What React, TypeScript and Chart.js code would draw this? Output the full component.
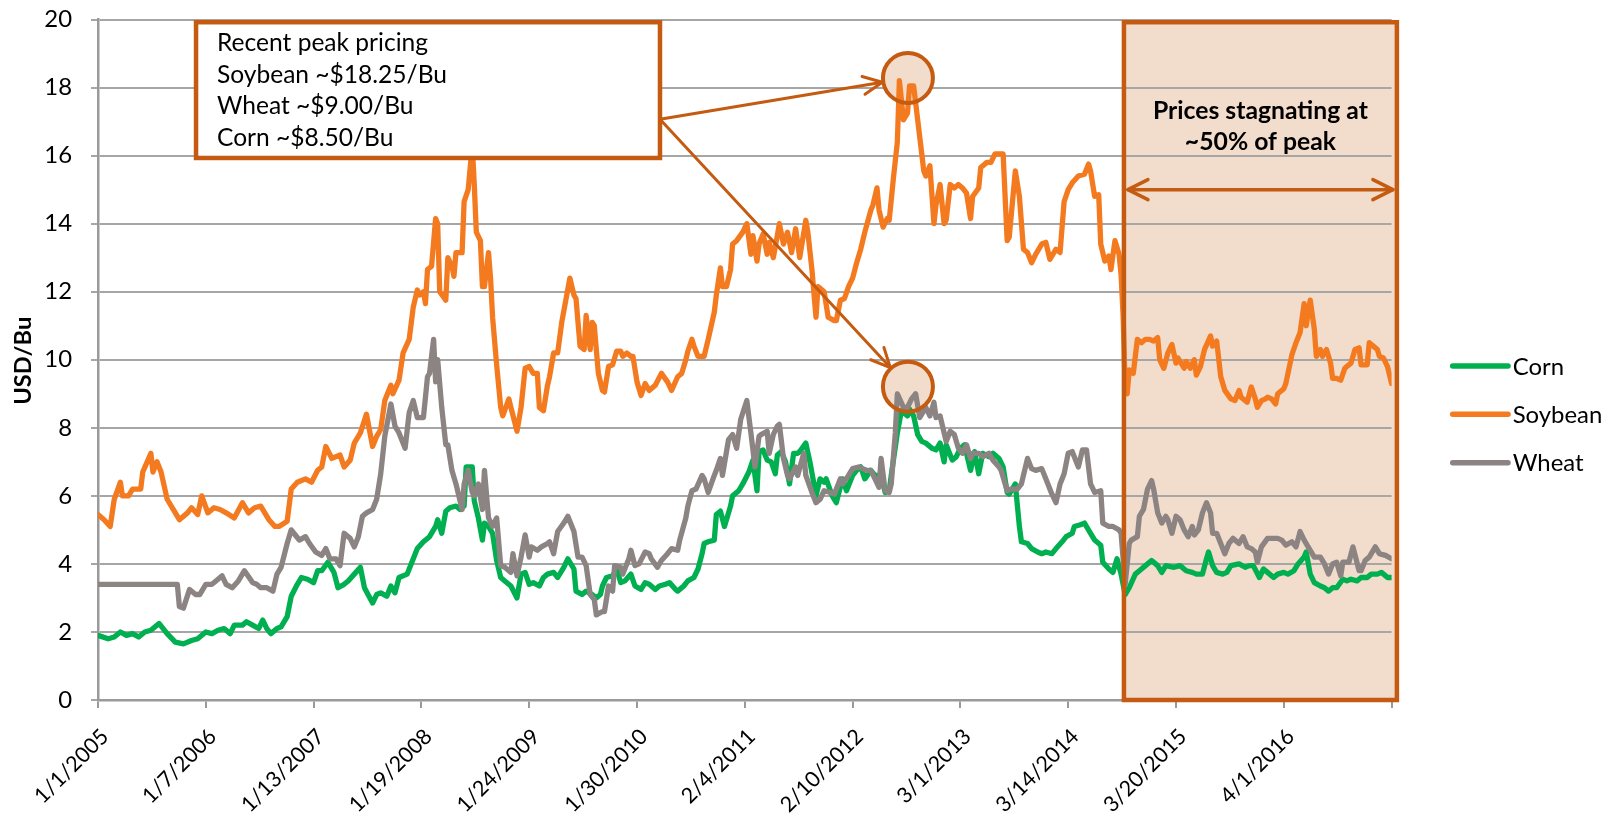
import React, { useEffect, useRef } from "react";
import { Chart, registerables } from "chart.js";

Chart.register(...registerables);

// ---------- data ----------
const xTickLabels = [
  "1/1/2005", "1/7/2006", "1/13/2007", "1/19/2008", "1/24/2009", "1/30/2010",
  "2/4/2011", "2/10/2012", "3/1/2013", "3/14/2014", "3/20/2015", "4/1/2016", "",
];
const POINTS_PER_LABEL = 53; // weekly observations between labelled ticks
const X_MAX = POINTS_PER_LABEL * (xTickLabels.length - 1);

const Y_MIN = 0;
const Y_MAX = 20;
const Y_STEP = 2;

const seriesNames = ["Corn", "Soybean", "Wheat"];
const seriesColors = ["#00B050", "#F47A20", "#8C8482"];

// [observation index, USD/Bu]
const cornPrices: number[][] = [
  [0,1.9],[5,1.8],[8,1.85],[11,2.0],[14,1.9],[17,1.95],[20,1.85],[23,2.0],[26,2.05],[30,2.25],[34,1.95],[38,1.7],[42,1.65],[46,1.75],[49,1.8],[53,2.0],[56,1.95],[59,2.05],[62,2.1],[65,1.95],[67,2.2],[71,2.2],[73,2.3],[76,2.2],[79,2.1],[81,2.35],[83,2.1],[85,1.95],[88,2.1],[90,2.15],[93,2.45],[95,3.05],[98,3.4],[100,3.6],[103,3.55],[106,3.45],[108,3.8],[110,3.8],[113,4.05],[116,3.75],[118,3.3],[121,3.4],[123,3.5],[126,3.7],[129,3.9],[131,3.3],[135,2.85],[137,3.1],[139,3.15],[142,3.05],[144,3.35],[146,3.15],[148,3.6],[152,3.7],[155,4.15],[157,4.45],[160,4.65],[163,4.8],[166,5.1],[167,5.3],[169,4.9],[171,5.55],[173,5.65],[176,5.7],[178,5.6],[180,5.7],[181,6.85],[184,6.85],[185,5.85],[187,5.35],[189,4.7],[190,5.2],[192,5.1],[194,4.9],[196,4.1],[198,3.6],[200,3.5],[203,3.35],[206,3.0],[208,3.7],[210,3.75],[212,3.4],[214,3.45],[217,3.35],[219,3.6],[221,3.7],[224,3.75],[226,3.6],[229,3.9],[231,4.15],[234,3.85],[235,3.2],[238,3.1],[240,3.2],[243,3.1],[245,3.0],[247,3.1],[248,3.35],[250,3.6],[253,3.65],[255,3.85],[257,3.45],[259,3.5],[262,3.7],[264,3.35],[267,3.25],[269,3.45],[271,3.4],[274,3.25],[276,3.35],[279,3.4],[281,3.45],[284,3.25],[285,3.2],[288,3.35],[290,3.5],[293,3.6],[295,3.85],[297,4.3],[298,4.6],[300,4.65],[303,4.7],[304,5.45],[306,5.55],[308,5.1],[311,5.7],[312,6.0],[315,6.15],[317,6.35],[320,6.7],[322,7.05],[324,6.15],[325,7.3],[327,7.35],[329,7.05],[331,7.0],[333,6.65],[334,7.2],[336,7.3],[338,7.0],[340,6.35],[342,7.25],[344,7.25],[345,7.3],[348,7.55],[350,7.0],[352,6.35],[353,6.0],[355,6.5],[357,6.4],[358,6.5],[361,6.0],[363,5.8],[366,6.5],[368,6.15],[371,6.6],[373,6.75],[375,6.85],[377,6.5],[380,6.75],[382,6.6],[385,6.6],[387,6.1],[389,6.15],[390,6.6],[393,7.85],[395,8.5],[398,8.35],[399,8.55],[401,8.35],[403,7.8],[405,7.6],[407,7.55],[410,7.4],[412,7.35],[414,7.55],[416,7.0],[417,7.5],[420,7.05],[422,7.15],[424,7.4],[426,7.5],[429,6.75],[431,7.3],[433,6.65],[435,7.25],[438,7.15],[440,7.25],[443,7.1],[445,6.85],[447,6.1],[448,6.05],[451,6.35],[453,5.1],[454,4.65],[457,4.6],[459,4.45],[462,4.35],[464,4.3],[466,4.35],[469,4.3],[471,4.45],[474,4.65],[476,4.8],[479,4.9],[480,5.1],[483,5.15],[485,5.2],[488,4.9],[490,4.7],[493,4.55],[494,4.05],[497,3.85],[499,3.75],[501,4.15],[503,3.7],[505,3.1],[507,3.3],[510,3.7],[512,3.8],[515,3.95],[518,4.1],[521,3.95],[523,3.75],[525,3.95],[529,3.9],[532,3.95],[535,3.8],[538,3.75],[540,3.7],[543,3.7],[545,4.15],[546,4.35],[548,3.95],[550,3.75],[553,3.7],[555,3.75],[557,3.95],[561,4.0],[564,3.9],[566,3.95],[568,3.95],[571,3.6],[573,3.85],[575,3.75],[578,3.6],[580,3.7],[583,3.75],[585,3.7],[588,3.8],[590,4.0],[593,4.2],[594,4.35],[596,3.7],[598,3.45],[601,3.35],[603,3.3],[605,3.2],[607,3.3],[609,3.3],[612,3.55],[614,3.5],[616,3.55],[619,3.5],[621,3.6],[624,3.6],[626,3.7],[629,3.7],[631,3.75],[634,3.6],[636,3.6],
];

const soybeanPrices: number[][] = [
  [0,5.45],[3,5.3],[6,5.1],[8,5.9],[11,6.4],[12,6.0],[15,6.0],[17,6.2],[21,6.2],[22,6.7],[26,7.25],[27,6.7],[29,7.0],[31,6.7],[34,5.9],[37,5.6],[40,5.3],[44,5.5],[46,5.65],[49,5.45],[51,6.0],[54,5.5],[57,5.65],[60,5.6],[63,5.5],[67,5.35],[71,5.8],[74,5.5],[77,5.65],[80,5.7],[84,5.3],[87,5.1],[89,5.1],[93,5.25],[95,6.2],[98,6.4],[102,6.5],[105,6.4],[108,6.75],[110,6.85],[112,7.45],[115,7.1],[119,7.2],[121,6.85],[124,7.05],[126,7.55],[129,7.85],[132,8.4],[135,7.45],[137,7.75],[139,7.95],[141,8.8],[144,9.25],[145,9.0],[148,9.4],[150,10.2],[153,10.6],[155,11.55],[157,12.05],[158,11.9],[160,12.0],[161,11.65],[162,12.65],[164,12.75],[166,14.15],[167,14.0],[168,12.0],[171,11.75],[172,13.0],[174,12.75],[175,12.45],[176,13.15],[179,13.15],[180,14.65],[182,15.0],[184,16.3],[185,15.15],[186,13.75],[188,13.5],[189,12.15],[190,12.15],[192,13.15],[193,12.4],[194,11.25],[196,9.85],[198,8.6],[199,8.35],[202,8.85],[203,8.6],[206,7.9],[208,8.6],[210,9.75],[212,9.8],[214,9.6],[216,9.6],[217,8.6],[219,8.5],[221,9.25],[222,9.5],[224,10.2],[226,10.2],[228,11.1],[230,11.75],[232,12.4],[234,11.9],[235,11.8],[237,10.4],[239,10.3],[240,11.3],[242,10.3],[243,11.1],[244,11.0],[246,9.6],[248,9.1],[249,9.05],[251,9.8],[253,9.85],[255,10.25],[257,10.25],[258,10.1],[260,10.2],[262,10.1],[263,10.1],[265,9.35],[267,8.95],[269,9.3],[271,9.1],[274,9.25],[277,9.6],[280,9.35],[282,9.1],[285,9.5],[287,9.6],[289,10.0],[290,10.25],[292,10.6],[293,10.4],[295,10.1],[298,10.1],[300,10.6],[303,11.4],[304,11.9],[306,12.7],[307,12.15],[309,12.15],[311,12.65],[312,13.4],[314,13.5],[317,13.75],[319,14.0],[321,13.1],[322,13.65],[324,12.9],[325,13.4],[327,13.7],[329,13.1],[330,13.45],[332,13.0],[334,13.65],[335,14.0],[337,13.4],[339,13.75],[341,13.15],[343,13.85],[345,13.0],[348,14.1],[349,13.75],[351,12.65],[353,11.25],[354,12.15],[357,12.0],[359,11.25],[362,11.15],[363,11.15],[365,11.75],[367,11.8],[369,12.15],[371,12.4],[373,12.85],[375,13.25],[377,13.75],[380,14.4],[381,14.55],[383,15.05],[384,14.4],[386,13.9],[388,14.15],[389,14.1],[391,15.3],[393,16.4],[394,18.2],[396,17.05],[398,17.25],[399,18.05],[401,18.05],[402,17.55],[404,16.55],[406,15.55],[407,15.4],[409,15.7],[411,14.0],[412,14.55],[414,15.15],[416,14.0],[417,14.1],[419,15.15],[421,15.05],[423,15.15],[425,15.05],[427,14.9],[429,14.15],[430,14.8],[433,15.05],[434,15.65],[437,15.8],[439,15.8],[441,16.05],[443,16.05],[445,16.05],[447,13.5],[448,13.6],[451,15.55],[453,14.8],[455,13.25],[457,13.15],[459,12.85],[461,13.1],[464,13.4],[466,13.45],[468,12.95],[471,13.25],[473,13.15],[475,14.65],[477,15.0],[479,15.2],[482,15.4],[485,15.45],[487,15.75],[488,15.55],[490,14.8],[492,14.85],[493,13.4],[495,12.9],[497,13.05],[498,12.65],[500,13.5],[502,13.1],[503,12.5],[504,11.3],[505,9.2],[506,9.0],[507,9.7],[509,9.6],[511,10.6],[513,10.5],[515,10.6],[517,10.6],[519,10.55],[521,10.65],[522,10.0],[524,9.75],[526,10.2],[528,10.45],[530,9.9],[531,10.05],[534,9.75],[535,9.95],[537,9.75],[539,10.0],[540,9.55],[542,9.8],[544,10.3],[547,10.7],[548,10.4],[550,10.55],[552,9.5],[554,9.1],[557,8.85],[559,8.8],[561,9.1],[562,8.9],[565,8.75],[567,9.2],[569,8.85],[570,8.6],[572,8.8],[574,8.85],[575,8.9],[577,8.85],[579,8.7],[580,9.0],[583,9.15],[584,9.3],[587,10.15],[589,10.5],[591,10.8],[593,11.65],[594,11.0],[596,11.75],[598,10.9],[599,10.1],[601,10.3],[602,10.1],[604,10.3],[606,9.9],[607,9.45],[609,9.45],[611,9.4],[613,9.75],[616,9.9],[618,10.3],[620,10.35],[621,9.85],[624,9.85],[625,10.5],[627,10.4],[629,10.3],[630,10.1],[632,10.05],[634,9.8],[636,9.3],
];

const wheatPrices: number[][] = [
  [0,3.4],[39,3.4],[40,2.75],[42,2.7],[45,3.25],[48,3.1],[50,3.1],[53,3.4],[56,3.4],[58,3.5],[61,3.65],[63,3.4],[66,3.3],[69,3.5],[72,3.8],[76,3.45],[78,3.4],[80,3.3],[83,3.3],[86,3.2],[88,3.7],[90,3.9],[93,4.6],[95,5.0],[97,4.85],[99,4.7],[102,4.8],[104,4.6],[107,4.35],[110,4.25],[112,4.45],[114,4.15],[117,4.15],[119,3.95],[121,4.9],[124,4.75],[126,4.5],[128,4.8],[130,5.4],[132,5.5],[135,5.6],[137,5.9],[139,6.65],[141,7.75],[144,8.7],[146,8.05],[148,7.85],[151,7.4],[153,8.45],[155,8.8],[157,8.3],[160,8.3],[162,9.5],[163,9.6],[165,10.6],[166,9.35],[167,10.0],[169,8.6],[171,7.5],[172,7.5],[174,6.75],[176,6.35],[177,6.1],[179,5.6],[180,6.35],[182,6.75],[184,6.1],[185,6.0],[187,6.35],[189,5.6],[190,6.75],[192,5.35],[194,5.1],[196,5.35],[198,3.95],[200,3.9],[203,3.75],[204,4.3],[206,3.65],[208,4.2],[210,4.85],[212,4.2],[213,4.5],[216,4.4],[218,4.5],[221,4.6],[222,4.65],[224,4.3],[226,4.95],[229,5.2],[231,5.4],[234,4.95],[236,4.2],[238,4.2],[240,3.95],[242,3.1],[244,2.95],[245,2.5],[248,2.6],[249,2.6],[251,3.35],[253,3.2],[254,3.95],[257,3.9],[258,3.7],[261,4.15],[262,4.4],[264,3.95],[266,4.0],[269,4.35],[271,4.3],[272,4.15],[275,3.9],[277,4.1],[280,4.3],[282,4.45],[285,4.4],[286,4.7],[289,5.35],[290,5.7],[292,6.15],[294,6.2],[297,6.6],[298,6.5],[300,6.1],[303,6.6],[304,6.75],[306,7.1],[307,6.6],[310,7.65],[312,7.8],[314,7.4],[316,8.25],[319,8.8],[321,7.85],[323,6.85],[325,7.75],[326,7.8],[329,7.9],[330,7.25],[332,7.8],[334,8.05],[335,8.1],[337,7.1],[339,6.6],[340,6.5],[343,6.85],[344,6.6],[347,7.25],[348,6.6],[351,6.1],[353,5.8],[355,5.9],[357,6.15],[360,6.1],[362,6.05],[365,6.5],[366,6.35],[369,6.6],[371,6.8],[374,6.85],[376,6.8],[378,6.75],[380,6.75],[382,6.5],[384,6.25],[385,7.1],[387,6.15],[389,6.1],[390,6.35],[392,7.85],[393,9.0],[396,8.6],[398,8.6],[400,8.85],[402,9.0],[404,8.3],[407,8.6],[409,8.35],[411,8.75],[412,8.3],[414,8.35],[416,7.85],[417,7.6],[419,7.9],[421,7.8],[423,7.4],[425,7.25],[427,7.5],[429,7.1],[430,7.25],[433,7.25],[435,7.15],[438,7.25],[440,7.05],[443,6.85],[444,6.75],[447,6.15],[449,6.2],[452,6.2],[454,6.35],[457,7.1],[459,6.8],[461,6.75],[464,6.8],[466,6.5],[469,6.05],[471,5.8],[473,6.35],[475,6.65],[477,7.25],[479,7.3],[480,7.15],[482,6.85],[484,7.35],[486,7.35],[488,6.35],[490,6.1],[493,6.15],[494,5.2],[497,5.1],[499,5.1],[502,5.0],[503,4.9],[505,3.4],[507,4.6],[508,4.7],[511,4.8],[512,5.4],[514,5.6],[516,6.2],[518,6.45],[519,6.2],[521,5.5],[523,5.2],[525,5.4],[526,5.3],[528,4.9],[530,5.4],[532,5.3],[534,5.0],[536,4.8],[538,5.1],[539,4.85],[541,5.0],[543,5.5],[545,5.8],[547,5.5],[548,4.9],[550,4.9],[552,4.6],[554,4.3],[556,4.6],[558,4.75],[561,4.6],[563,4.8],[565,4.5],[567,4.45],[569,4.35],[570,4.05],[572,4.5],[575,4.75],[577,4.75],[580,4.75],[582,4.7],[584,4.55],[587,4.65],[589,4.5],[591,4.95],[593,4.7],[596,4.4],[598,4.2],[601,4.2],[603,4.0],[605,3.7],[607,4.0],[609,4.05],[611,3.65],[612,4.05],[615,4.05],[617,4.5],[620,3.8],[621,3.8],[623,4.1],[625,4.2],[628,4.5],[630,4.3],[633,4.25],[636,4.15],
];

const seriesData = [cornPrices, soybeanPrices, wheatPrices];

// annotation texts
const yAxisTitle = "USD/Bu";
const calloutLines = ["Recent peak pricing", "Soybean ~$18.25/Bu", "Wheat ~$9.00/Bu", "Corn ~$8.50/Bu"];
const stagnationLines = ["Prices stagnating at", "~50% of peak"];

// annotation anchors in data units (observation index, USD/Bu)
const calloutBox = { x0: 48.2, x1: 276.3, yTop: 19.92, yBottom: 15.93 };
const arrowOrigin = { x: 276.3, y: 17.07 };
const peakCircles = [{ x: 398.2, y: 18.28 }, { x: 398.2, y: 9.21 }];
const stagnationBox = { x0: 504.4, x1: 638.6, yTop: 19.92, yBottom: 0 };
const stagnationArrowY = 15;

// ---------- styles ----------
const FONT = "Lato, 'DejaVu Sans', sans-serif";
const ACCENT = "#C55A11";
const PEACH = "#F2DCCB";
const GRID = "#A6A6A6";
const AXIS = "#9A9A9A";

function fitFontSize(text: string, targetWidth: number, weight: string): number {
  const ctx = document.createElement("canvas").getContext("2d");
  if (!ctx) return 24;
  ctx.font = `${weight} 100px ${FONT}`;
  const w = ctx.measureText(text).width || 1;
  return (100 * targetWidth) / w;
}

function chevron(ctx: CanvasRenderingContext2D, tx: number, ty: number, angle: number, len: number, half: number) {
  const bx = tx - len * Math.cos(angle);
  const by = ty - len * Math.sin(angle);
  const nx = -Math.sin(angle) * half;
  const ny = Math.cos(angle) * half;
  ctx.beginPath();
  ctx.moveTo(bx + nx, by + ny);
  ctx.lineTo(tx, ty);
  ctx.lineTo(bx - nx, by - ny);
  ctx.stroke();
}

export default function App() {
  const canvasRef = useRef<HTMLCanvasElement>(null);

  useEffect(() => {
    const canvas = canvasRef.current;
    if (!canvas) return;

    const sizes = {
      callout: fitFontSize("Recent peak pricing", 211, "normal"),
      legend: fitFontSize("Soybean", 89.7, "normal"),
      xLabel: fitFontSize("1/13/2007", 107, "normal"),
      title: fitFontSize("USD/Bu", 88, "bold"),
      note: fitFontSize("Prices stagnating at", 215, "bold"),
    };

    const annotations = {
      id: "annotations",
      beforeDraw(chart: any) {
        const { ctx, scales } = chart;
        const x = scales.x, y = scales.y;
        const l = x.getPixelForValue(stagnationBox.x0);
        const r = x.getPixelForValue(stagnationBox.x1);
        const t = y.getPixelForValue(stagnationBox.yTop);
        const b = y.getPixelForValue(stagnationBox.yBottom);
        ctx.save();
        ctx.fillStyle = PEACH;
        ctx.fillRect(l, t, r - l, b - t);
        ctx.restore();
      },
      beforeDatasetsDraw(chart: any) {
        const { ctx, scales } = chart;
        ctx.save();
        ctx.fillStyle = PEACH;
        for (const c of peakCircles) {
          ctx.beginPath();
          ctx.arc(scales.x.getPixelForValue(c.x), scales.y.getPixelForValue(c.y), 25, 0, Math.PI * 2);
          ctx.fill();
        }
        ctx.restore();
      },
      afterDatasetsDraw(chart: any) {
        const { ctx, scales } = chart;
        const x = scales.x, y = scales.y;
        ctx.save();

        // stagnation box outline, arrow and note
        const l = x.getPixelForValue(stagnationBox.x0);
        const r = x.getPixelForValue(stagnationBox.x1);
        const t = y.getPixelForValue(stagnationBox.yTop);
        const b = y.getPixelForValue(stagnationBox.yBottom);
        ctx.strokeStyle = ACCENT;
        ctx.lineWidth = 4.5;
        ctx.strokeRect(l, t, r - l, b - t);

        const ay = y.getPixelForValue(stagnationArrowY);
        ctx.lineWidth = 3.5;
        ctx.lineCap = "round";
        ctx.lineJoin = "round";
        ctx.beginPath();
        ctx.moveTo(l + 4, ay);
        ctx.lineTo(r - 4, ay);
        ctx.stroke();
        chevron(ctx, l + 4, ay, Math.PI, 20, 10);
        chevron(ctx, r - 4, ay, 0, 20, 10);

        ctx.fillStyle = "#000";
        ctx.font = `bold ${sizes.note}px ${FONT}`;
        ctx.textAlign = "center";
        ctx.textBaseline = "alphabetic";
        const cx = (l + r) / 2;
        ctx.fillText(stagnationLines[0], cx, t + 96.6);
        ctx.fillText(stagnationLines[1], cx, t + 127.4);

        // peak circles outline
        ctx.strokeStyle = ACCENT;
        ctx.lineWidth = 4;
        for (const c of peakCircles) {
          ctx.beginPath();
          ctx.arc(x.getPixelForValue(c.x), y.getPixelForValue(c.y), 25, 0, Math.PI * 2);
          ctx.stroke();
        }

        // callout box
        const bl = x.getPixelForValue(calloutBox.x0);
        const br = x.getPixelForValue(calloutBox.x1);
        const bt = y.getPixelForValue(calloutBox.yTop);
        const bb = y.getPixelForValue(calloutBox.yBottom);
        ctx.fillStyle = "#FFFFFF";
        ctx.fillRect(bl, bt, br - bl, bb - bt);
        ctx.lineWidth = 4.5;
        ctx.lineJoin = "miter";
        ctx.strokeRect(bl, bt, br - bl, bb - bt);
        ctx.fillStyle = "#000";
        ctx.font = `${sizes.callout}px ${FONT}`;
        ctx.textAlign = "left";
        const baselines = [28.7, 60.4, 92.1, 123.8];
        calloutLines.forEach((line, i) => ctx.fillText(line, bl + 21, bt + baselines[i]));

        // arrows from callout to circles
        const ox = x.getPixelForValue(arrowOrigin.x);
        const oy = y.getPixelForValue(arrowOrigin.y);
        ctx.lineWidth = 3;
        ctx.lineCap = "round";
        ctx.lineJoin = "round";
        for (const c of peakCircles) {
          const ccx = x.getPixelForValue(c.x);
          const ccy = y.getPixelForValue(c.y);
          const ang = Math.atan2(ccy - oy, ccx - ox);
          const tx = ccx - 26 * Math.cos(ang);
          const ty = ccy - 26 * Math.sin(ang);
          ctx.beginPath();
          ctx.moveTo(ox, oy);
          ctx.lineTo(tx, ty);
          ctx.stroke();
          chevron(ctx, tx, ty, ang, 19, 9);
        }
        ctx.restore();
      },
      afterDraw(chart: any) {
        const { ctx, chartArea, scales } = chart;
        ctx.save();
        // legend
        const h = chartArea.bottom - chartArea.top;
        const rows = [0.5092, 0.5802, 0.6513];
        ctx.font = `${sizes.legend}px ${FONT}`;
        ctx.textAlign = "left";
        ctx.textBaseline = "middle";
        seriesNames.forEach((name, i) => {
          const ry = chartArea.top + h * rows[i];
          ctx.strokeStyle = seriesColors[i];
          ctx.lineWidth = 5.5;
          ctx.lineCap = "round";
          ctx.beginPath();
          ctx.moveTo(chartArea.right + 61.1, ry);
          ctx.lineTo(chartArea.right + 116.4, ry);
          ctx.stroke();
          ctx.fillStyle = "#000";
          ctx.fillText(name, chartArea.right + 121.1, ry + 1);
        });

        // x labels (rotated)
        ctx.font = `${sizes.xLabel}px ${FONT}`;
        ctx.textAlign = "right";
        ctx.textBaseline = "middle";
        ctx.fillStyle = "#000";
        xTickLabels.forEach((lab, i) => {
          if (!lab) return;
          const px = scales.x.getPixelForValue(i * POINTS_PER_LABEL);
          ctx.save();
          ctx.translate(px + 7, chartArea.bottom + 33);
          ctx.rotate(-Math.PI / 4);
          ctx.fillText(lab, 0, 0);
          ctx.restore();
        });

        // y axis title
        ctx.font = `bold ${sizes.title}px ${FONT}`;
        ctx.textAlign = "center";
        ctx.textBaseline = "middle";
        ctx.save();
        ctx.translate(chartArea.left - 74.6, (chartArea.top + chartArea.bottom) / 2 + 1);
        ctx.rotate(-Math.PI / 2);
        ctx.fillText(yAxisTitle, 0, 0);
        ctx.restore();
        ctx.restore();
      },
    };

    const chart = new Chart(canvas, {
      type: "line",
      data: {
        datasets: seriesNames.map((name, i) => ({
          label: name,
          data: seriesData[i].map((p) => ({ x: p[0], y: p[1] })),
          borderColor: seriesColors[i],
          backgroundColor: seriesColors[i],
          borderWidth: 5.3,
          pointRadius: 0,
          tension: 0,
          fill: false,
          borderJoinStyle: "round" as const,
          borderCapStyle: "round" as const,
          order: 3 - i,
        })),
      },
      options: {
        animation: false,
        responsive: true,
        maintainAspectRatio: false,
        layout: { padding: { top: 19.5, right: 213.4, bottom: 0, left: 0 } },
        plugins: { legend: { display: false }, tooltip: { enabled: false } },
        scales: {
          x: {
            type: "linear",
            min: 0,
            max: X_MAX,
            ticks: { display: false, stepSize: POINTS_PER_LABEL, maxTicksLimit: 100 },
            grid: { display: true, drawOnChartArea: false, drawTicks: true, tickLength: 8, color: AXIS, lineWidth: 2 },
            border: { display: true, color: AXIS, width: 2.5 },
            afterFit: (s: any) => {
              s.height = 117;
              s.paddingLeft = 0;
              s.paddingRight = 0;
            },
          },
          y: {
            min: Y_MIN,
            max: Y_MAX,
            ticks: {
              stepSize: Y_STEP,
              color: "#000",
              padding: 19,
              font: { family: FONT, size: sizes.legend },
            },
            grid: { color: GRID, lineWidth: 2, tickLength: 7, drawTicks: true },
            border: { display: true, color: AXIS, width: 2.5 },
            afterFit: (s: any) => {
              s.width = 98;
              s.paddingTop = 0;
              s.paddingBottom = 0;
            },
          },
        },
      },
      plugins: [annotations],
    } as any);

    return () => chart.destroy();
  }, []);

  return (
    <div style={{ position: "fixed", left: 0, top: 0, width: "1605px", height: "817px" }}>
      <canvas ref={canvasRef} style={{ display: "block" }} />
    </div>
  );
}
